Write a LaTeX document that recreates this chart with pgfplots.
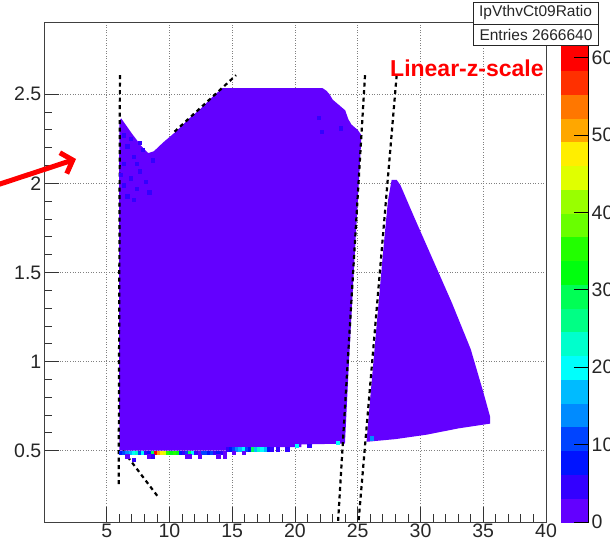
\documentclass[border=0pt]{standalone}
\usepackage{pgfplots}
\pgfplotsset{compat=1.18}
\usepackage{fontspec}
\setmainfont{Liberation Sans}
\setsansfont{Liberation Sans}
\usetikzlibrary{arrows.meta}

\definecolor{rootviolet}{RGB}{99,0,255}

\pgfplotsset{
  colormap={rootpal}{
    rgb255=(99,0,255) rgb255=(51,0,255) rgb255=(0,20,255) rgb255=(0,68,255)
    rgb255=(0,139,255) rgb255=(0,187,255) rgb255=(0,255,252) rgb255=(0,255,204)
    rgb255=(0,255,133) rgb255=(0,255,85) rgb255=(0,255,14) rgb255=(34,255,0)
    rgb255=(105,255,0) rgb255=(153,255,0) rgb255=(224,255,0) rgb255=(255,238,0)
    rgb255=(255,167,0) rgb255=(255,119,0) rgb255=(255,48,0) rgb255=(255,0,0)
    rgb255=(255,0,0)
  }
}

% colored bins: x centre, y centre, content
\pgfplotstableread{
x y c
6.125 0.49 80
6.375 0.49 112
6.625 0.49 143
6.875 0.49 175
7.125 0.49 207
7.375 0.49 239
7.625 0.49 112
7.875 0.49 207
8.125 0.49 48
8.375 0.49 80
8.625 0.49 303
8.875 0.49 621
9.125 0.49 494
9.375 0.49 462
9.625 0.49 430
9.875 0.49 366
10.125 0.49 334
10.375 0.49 366
10.625 0.49 334
10.875 0.49 80
11.125 0.49 48
11.375 0.49 112
11.625 0.49 303
11.875 0.49 207
12.125 0.49 48
12.375 0.49 16
12.625 0.49 112
12.875 0.49 112
13.125 0.49 80
13.375 0.49 112
13.625 0.49 48
13.875 0.49 80
14.125 0.49 48
14.375 0.49 16
14.625 0.51 48
14.875 0.51 80
15.125 0.51 112
15.375 0.51 143
15.625 0.51 175
15.875 0.51 207
16.125 0.51 112
16.375 0.51 80
16.625 0.51 303
16.875 0.51 175
17.125 0.51 239
17.375 0.51 207
17.625 0.51 175
17.875 0.51 80
18.125 0.51 48
18.625 0.51 48
19.375 0.51 48
20.125 0.53 207
21.125 0.53 48
23.375 0.545 207
6.625 0.47 16
8.375 0.47 16
8.625 0.47 48
11.375 0.47 16
11.625 0.47 16
12.375 0.47 16
13.875 0.47 16
14.375 0.47 16
15.125 0.49 16
15.875 0.49 16
7.125 0.45 48
6.375 2.27 48
6.625 2.21 48
7.125 2.15 48
6.375 2.11 48
7.625 2.07 48
6.875 2.03 48
8.125 2.01 48
7.375 1.97 48
6.625 1.93 48
8.625 2.13 48
7.875 2.19 48
6.375 1.99 48
7.125 1.91 48
8.375 1.95 48
6.875 2.25 48
7.625 2.23 48
6.125 2.05 48
7.375 2.11 48
21.875 2.37 48
22.125 2.29 48
23.625 2.31 48
26.125 0.57 143
}\binstable

\begin{document}
\begin{tikzpicture}
\useasboundingbox (0pt,0pt) rectangle (610pt,543pt);
\clip (0pt,0pt) rectangle (610pt,543pt);
\begin{axis}[
  at={(44pt,21pt)}, anchor=south west,
  scale only axis, width=502pt, height=499pt,
  xmin=0, xmax=40, ymin=0.1, ymax=2.9,
  xtick={5,10,...,40}, ytick={0.5,1,1.5,2,2.5},
  minor x tick num=4, minor y tick num=4,
  xtick pos=left, ytick pos=left,
  tick align=inside,
  major tick length=15pt, minor tick length=7.5pt,
  tick style={black!80, line width=0.9pt},
  axis line style={black!75, line width=1pt},
  grid=major,
  major grid style={black!50, line width=0.6pt, dash pattern=on 0.8pt off 1.8pt},
  /pgf/number format/assume math mode=true,
  tick label style={font=\fontsize{19.5}{20}\selectfont, text=black!85},
  xticklabel style={inner sep=1.5pt},
  yticklabel style={inner sep=2.5pt},
  colormap name=rootpal,
  colormap access=piecewise constant,
  point meta min=0, point meta max=645,
  colorbar,
  colorbar style={
    at={(parent axis.north east)}, anchor=north west, xshift=6pt,
    scale only axis, width=28pt, height=499pt,
    axis x line=none, axis y line*=right,
    ytick={0,100,...,600},
    yticklabel pos=right,
    tick align=inside,
    major tick length=15pt,
    ytick style={black, line width=1pt},
    axis line style={black, line width=1pt},
    /pgf/number format/assume math mode=true,
    yticklabel style={font=\fontsize{19.5}{20}\selectfont, inner sep=3pt, text=black!85},
  },
]
% region 1
\addplot[fill=rootviolet, draw=none] coordinates {
  (6.0,0.50) (5.98,1.5) (6.0,2.35) (6.15,2.365) (6.5,2.33) (7.0,2.28) (7.75,2.21)
  (8.3,2.17) (8.75,2.18) (9.5,2.23) (10.5,2.29) (11.5,2.36) (12.5,2.42)
  (13.5,2.49) (14.2,2.534) (22.2,2.534) (22.5,2.52) (22.75,2.5) (23.0,2.47)
  (23.5,2.44) (24.0,2.41) (24.25,2.36) (24.5,2.33) (25.0,2.30) (25.3,2.27)
  (24.72,1.55) (24.3,1.0) (23.98,0.54) (20.5,0.535) (20.5,0.52) (14.5,0.52)
  (14.5,0.50) (6.0,0.50)
};
% region 2
\addplot[fill=rootviolet, draw=none] coordinates {
  (25.7,0.55) (26.0,0.80) (26.5,1.2) (27.0,1.6) (27.4,1.9) (27.7,2.02)
  (28.1,2.02) (28.4,1.99) (29.5,1.81) (31.0,1.57) (32.5,1.33) (34.0,1.07)
  (35.0,0.83) (35.55,0.69) (35.55,0.652) (33.0,0.625) (30.5,0.59) (28.0,0.565)
  (25.7,0.55)
};
% individual bins
\addplot[scatter, only marks, mark=square*, mark size=1.75pt,
  every mark/.append style={xscale=0.9, line width=0.2pt},
  scatter/use mapped color={draw=mapped color, fill=mapped color},
  point meta=explicit]
  table[x=x, y=y, meta=c] {\binstable};
% drawn boundary lines
\addplot[black, line width=2.2pt, dash pattern=on 4pt off 3.5pt] coordinates {(6.05,2.607) (5.95,0.30)};
\addplot[black, line width=2.2pt, dash pattern=on 4pt off 3.5pt] coordinates {(6.3,0.50) (9.1,0.24)};
\addplot[black, line width=2.2pt, dash pattern=on 4pt off 3.5pt] coordinates {(10.4,2.29) (15.3,2.607)};
\addplot[black, line width=2.2pt, dash pattern=on 4pt off 3.5pt] coordinates {(25.58,2.607) (23.43,0.1)};
\addplot[black, line width=2.2pt, dash pattern=on 4pt off 3.5pt] coordinates {(28.1,2.607) (25.06,0.1)};
\end{axis}
% annotations
\node[anchor=west, inner sep=0pt, text=red, font=\bfseries\fontsize{23}{24}\selectfont] at (390pt,475pt) {Linear-z-scale};
\draw[red, line width=5pt, -{Straight Barb[length=10pt, width=22pt]}] (-6pt,357pt) -- (76pt,384pt);
% stats box
\draw[fill=white, line width=0.8pt, draw=black!85] (473pt,498pt) rectangle (598pt,541pt);
\draw[line width=0.8pt, draw=black!85] (473pt,519pt) -- (598pt,519pt);
\node[font=\fontsize{15.5}{16}\selectfont, text=black!85] at (535.5pt,530pt) {IpVthvCt09Ratio};
\node[anchor=west, font=\fontsize{15.5}{16}\selectfont, text=black!85] at (476pt,508pt) {Entries};
\node[anchor=east, font=\fontsize{15.5}{16}\selectfont, text=black!85] at (596pt,508pt) {2666640};
\end{tikzpicture}
\end{document}
